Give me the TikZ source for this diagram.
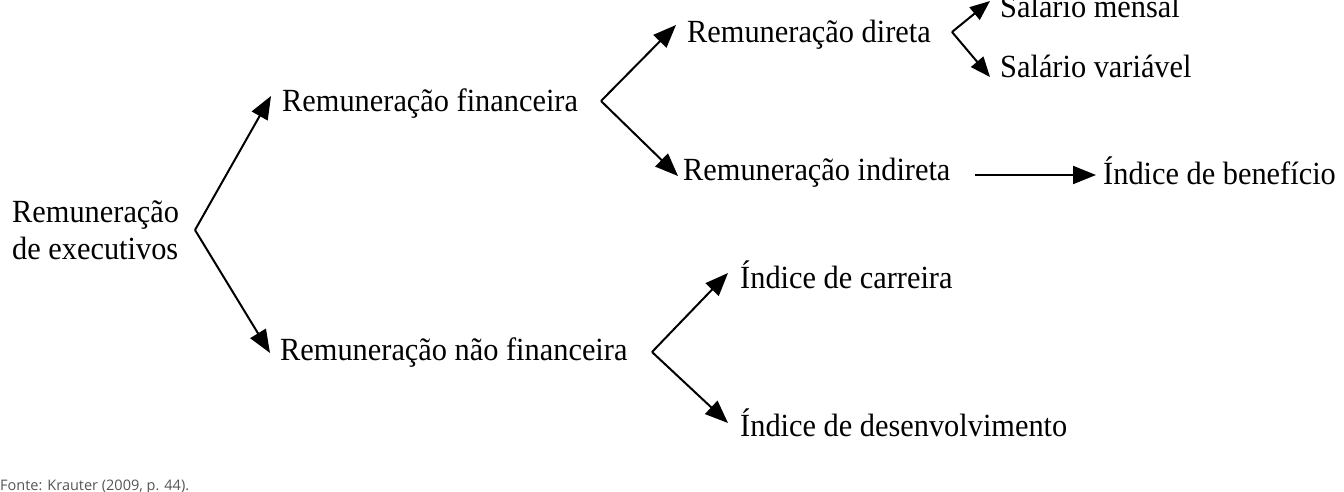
\documentclass[tikz,border=0pt]{standalone}
\usepackage{fontspec}
\setmainfont{Liberation Serif}[FakeStretch=0.94]
\newfontfamily\fontefont{Open Sans}
\usetikzlibrary{arrows.meta}
\definecolor{fontegray}{HTML}{555555}
\tikzset{
  lbl/.style={anchor=base west, inner sep=0pt, font=\fontsize{32.3}{37}\selectfont},
  arr/.style={line width=2pt, -{Triangle[length=23pt,width=18pt]}},
  arrs/.style={line width=2pt, -{Triangle[length=20pt,width=16pt]}},
}
\begin{document}
\begin{tikzpicture}[x=1pt,y=-1pt]
\useasboundingbox (0,0) rectangle (1344,492);
\node[lbl, align=left] (root) at (12,259) {Remuneração\\de executivos};
\node[lbl] (fin) at (282,112) {Remuneração financeira};
\node[lbl] (nfin) at (280,360) {Remuneração não financeira};
\node[lbl] (dir) at (687,43) {Remuneração direta};
\node[lbl] (ind) at (683,180) {Remuneração indireta};
\node[lbl] (sm) at (1000,18) {Salário mensal};
\node[lbl] (sv) at (1000,78) {Salário variável};
\node[lbl] (ben) at (1103,185) {Índice de benefício};
\node[lbl] (car) at (740,288) {Índice de carreira};
\node[lbl] (des) at (740,436) {Índice de desenvolvimento};
\node[anchor=base west, inner sep=0pt, text=fontegray, font=\fontefont\fontsize{14.5}{17}\selectfont] (fonte) at (0,490) {Fonte: Krauter (2009, p. 44).};
% bracket vertices and arrow tips
\coordinate (v0) at (195,230);
\coordinate (t0a) at (271,96);
\coordinate (t0b) at (270,353);
\coordinate (v1) at (601,101);
\coordinate (t1a) at (676,25);
\coordinate (t1b) at (678,176);
\coordinate (v2) at (952,32);
\coordinate (t2a) at (990,1);
\coordinate (t2b) at (990,77);
\coordinate (v3) at (652,352);
\coordinate (t3a) at (728,273);
\coordinate (t3b) at (728,423);
\coordinate (s4) at (975,175);
\coordinate (t4) at (1096,175);
\draw[arr] (v0) -- (t0a);
\draw[arr] (v0) -- (t0b);
\draw[arr] (v1) -- (t1a);
\draw[arr] (v1) -- (t1b);
\draw[arrs] (v2) -- (t2a);
\draw[arrs] (v2) -- (t2b);
\draw[arr] (v3) -- (t3a);
\draw[arr] (v3) -- (t3b);
\draw[arr] (s4) -- (t4);
\end{tikzpicture}
\end{document}
